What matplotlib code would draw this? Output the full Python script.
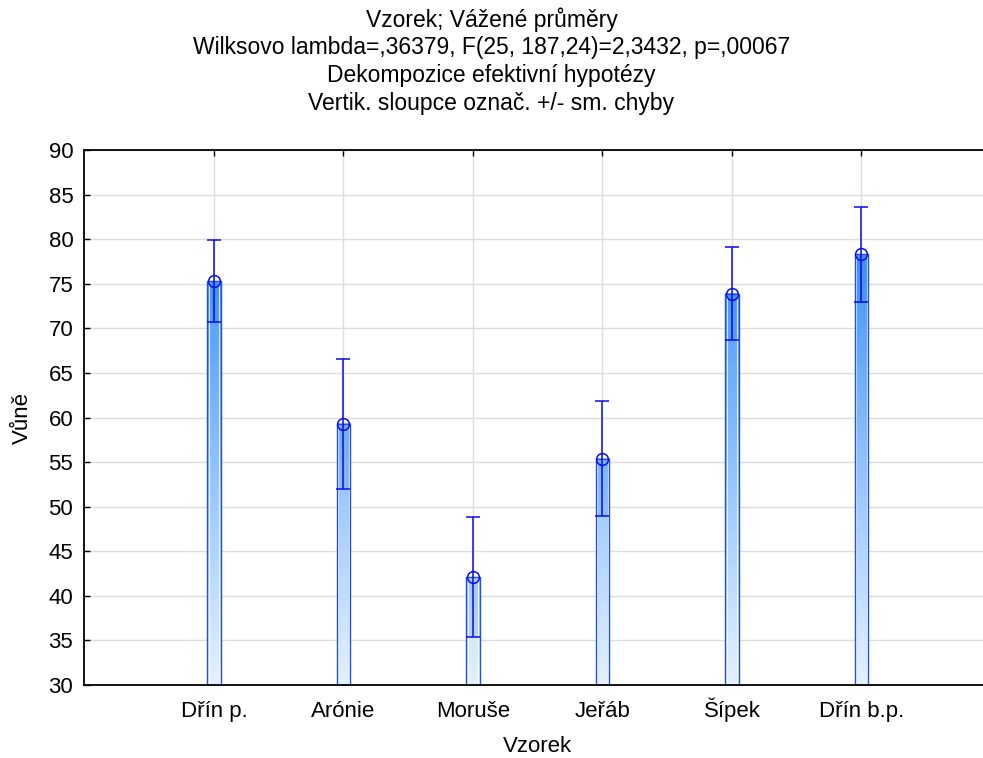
import matplotlib.pyplot as plt
import numpy as np
from matplotlib.colors import LinearSegmentedColormap
from matplotlib.patches import Rectangle

plt.rcParams['font.family'] = ['Liberation Sans', 'DejaVu Sans']

# vážené průměry a směrodatné chyby
vzorky = ['Dřín p.', 'Arónie', 'Moruše', 'Jeřáb', 'Šípek', 'Dřín b.p.']
prumery = [75.3, 59.3, 42.1, 55.4, 73.9, 78.3]
chyby = [4.6, 7.3, 6.7, 6.5, 5.2, 5.3]
y_ticks = [30, 35, 40, 45, 50, 55, 60, 65, 70, 75, 80, 85, 90]

titulek = ('Vzorek; Vážené průměry\n'
           'Wilksovo lambda=,36379, F(25, 187,24)=2,3432, p=,00067\n'
           'Dekompozice efektivní hypotézy\n'
           'Vertik. sloupce označ. +/- sm. chyby')

fig = plt.figure(figsize=(9.83, 7.58), dpi=100)
ax = fig.add_axes([84.4 / 983, 73 / 758, 906.6 / 983, 535 / 758])

cmap = LinearSegmentedColormap.from_list('modra', ['#e4f1ff', '#3a92f6'])
x = np.arange(1, len(vzorky) + 1)
w = 0.105
y0 = 30

for xi, m, e in zip(x, prumery, chyby):
    # svislý přechod barvy uvnitř sloupce
    ys = np.linspace(y0, m, 200)
    grad = ((ys - y0) / (80 - y0)).reshape(-1, 1)
    ax.imshow(grad, cmap=cmap, vmin=0, vmax=1, origin='lower', aspect='auto',
              extent=[xi - w / 2, xi + w / 2, y0, m], zorder=2, interpolation='bilinear')
    ax.add_patch(Rectangle((xi - w / 2, m - e), w, e, facecolor='#2f7fe8',
                           alpha=0.18, edgecolor='none', zorder=2.1))
    ax.add_patch(Rectangle((xi - w / 2 + 0.012, y0), w - 0.024, m - y0, fill=False,
                           edgecolor='white', lw=0.8, alpha=0.8, zorder=2.2))
    ax.add_patch(Rectangle((xi - w / 2, y0), w, m - y0, fill=False,
                           edgecolor='#1f4fe6', lw=1.0, zorder=2.3))

ax.errorbar(x, prumery, yerr=chyby, fmt='o', color='#0a0af0', ecolor='#0a0af0',
            elinewidth=1.1, capsize=4.7, capthick=1.1, markersize=8.5,
            markerfacecolor='none', markeredgewidth=1.1, zorder=3)

ax.set_xlim(0, 7)
ax.set_ylim(30, 90)
ax.set_xticks(x)
ax.set_xticklabels(vzorky, va='baseline')
ax.set_yticks(y_ticks)
ax.tick_params(axis='both', direction='in', length=4, width=1, labelsize=16,
               colors='black', top=True)
ax.tick_params(axis='y', pad=8)
ax.tick_params(axis='x', pad=23)
ax.grid(True, color='#dddddd', lw=1, zorder=0)
ax.set_axisbelow(True)
ax.spines['right'].set_visible(False)
for s in ['left', 'bottom', 'top']:
    ax.spines[s].set_linewidth(1.3)

ax.set_xlabel('Vzorek', fontsize=16, labelpad=10)
ax.set_ylabel('Vůně', fontsize=16, labelpad=11)
fig.text(0.5, 1 - 7 / 758, titulek, ha='center', va='top', fontsize=16.5, linespacing=1.27)

fig.savefig('out.png', dpi=100)
